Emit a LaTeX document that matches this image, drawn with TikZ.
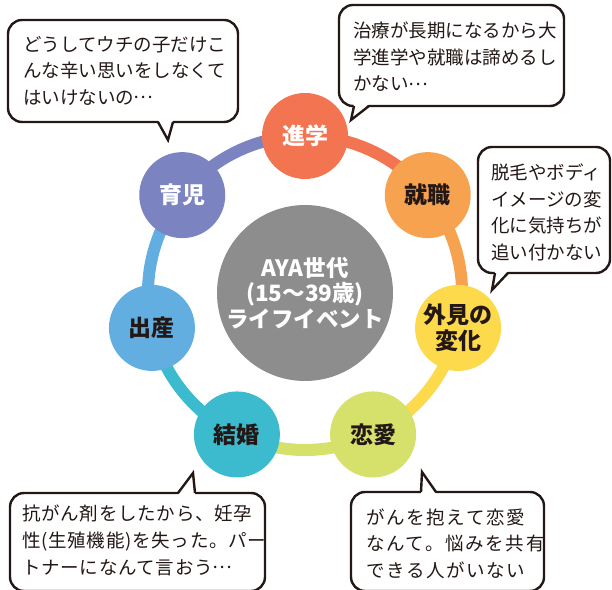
\documentclass[tikz,border=0pt]{standalone}
\usepackage{fontspec}
\setmainfont{Noto Sans CJK JP}
\newcommand\jdots{\makebox[1em][c]{\raisebox{0.3em}{…}}}
\definecolor{ink}{HTML}{231815}
\definecolor{cShin}{HTML}{F27450}
\definecolor{cShu}{HTML}{F7A24F}
\definecolor{cGai}{HTML}{FDD94C}
\definecolor{cRen}{HTML}{D5E16A}
\definecolor{cKek}{HTML}{3DBBCE}
\definecolor{cShus}{HTML}{62AEE0}
\definecolor{cIku}{HTML}{7B83C1}
\definecolor{cHub}{HTML}{8D8D8D}
\pgfdeclarelayer{bg}
\pgfsetlayers{bg,main}
\begin{document}
\begin{tikzpicture}[x=1pt,y=1pt,
  ev/.style={circle, minimum size=86pt, inner sep=0pt, align=center, text=ink,
    font=\fontsize{23}{26}\selectfont\bfseries},
  hub/.style={circle, minimum size=176pt, inner sep=0pt, align=center, fill=cHub, text=white,
    font=\fontsize{22.5}{25.5}\selectfont\bfseries},
  ring/.style={line width=12pt, bend left=25.71, looseness=0.9},
  bubble/.style={draw=ink, line width=2.4pt, fill=white, rounded corners=14pt},
  tailside/.style={draw=ink, line width=2.4pt, line join=miter},
  btext/.style={anchor=west, inner sep=0pt, align=left, text=ink,
    font=\fontsize{18.5}{26.5}\selectfont}]
\useasboundingbox (0,0) rectangle (612,589);

% hub
\node[hub] (hub) at (305,296) {AYA世代\\(15〜39歳)\\ライフイベント};

% life events
\begin{scope}[shift={(305,296)}]
\node[ev, fill=cShin, text=white] (shin) at (90:157) {進学};
\node[ev, fill=cShu] (shu) at (38.57:157) {就職};
\node[ev, fill=cGai] (gai) at (-12.86:157) {外見の\\変化};
\node[ev, fill=cRen] (ren) at (-64.29:157) {恋愛};
\node[ev, fill=cKek] (kek) at (-115.71:157) {結婚};
\node[ev, fill=cShus] (shus) at (-167.14:157) {出産};
\node[ev, fill=cIku, text=white] (iku) at (141.43:157) {育児};
\end{scope}

\begin{pgfonlayer}{bg}
\draw[ring, cShin] (shin.center) to (shu.center);
\draw[ring, cShu] (shu.center) to (gai.center);
\draw[ring, cGai] (gai.center) to (ren.center);
\draw[ring, cRen] (ren.center) to (kek.center);
\draw[ring, cKek] (kek.center) to (shus.center);
\draw[ring, cShus] (shus.center) to (iku.center);
\draw[ring, cIku] (iku.center) to (shin.center);
\end{pgfonlayer}

% bubble 1 (top left)
\path[bubble] (8,467) rectangle (238,569);
\fill[white] (158,469) -- (168,449) -- (173,469) -- cycle;
\draw[tailside] (158,467) -- (168,449) -- (173,467);
\node[btext] (t1) at (23,518) {どうしてウチの子だけこ\\んな辛い思いをしなくて\\はいけないの\jdots};

% bubble 2 (top right)
\path[bubble] (339,483) rectangle (564,584);
\fill[white] (354,485) -- (351,469) -- (369,485) -- cycle;
\draw[tailside] (354,483) -- (351,469) -- (369,483);
\node[btext] (t2) at (353,532) {治療が長期になるから大\\学進学や就職は諦めるし\\かない\jdots};

% bubble 3 (right)
\path[bubble] (478,316) rectangle (610,442);
\fill[white] (495,318) -- (492,299) -- (508,318) -- cycle;
\draw[tailside] (495,316) -- (492,299) -- (508,316);
\node[btext] (t3) at (491,376.5) {脱毛やボディ\\イメージの変\\化に気持ちが\\追い付かない};

% bubble 4 (bottom left)
\path[bubble] (10,-2) rectangle (265,96);
\fill[white] (178,94) -- (193,116) -- (195,94) -- cycle;
\draw[tailside] (178,96) -- (193,116) -- (195,96);
\node[btext, font=\fontsize{18.5}{27}\selectfont\addfontfeature{LetterSpace=4}] (t4) at (22,49) {抗がん剤をしたから、妊孕\\性(生殖機能)を失った。パー\\トナーになんて言おう\jdots};

% bubble 5 (bottom right)
\path[bubble] (351,-2) rectangle (544,97);
\fill[white] (421,95) -- (422,117) -- (436,95) -- cycle;
\draw[tailside] (421,97) -- (422,117) -- (436,97);
\node[btext, font=\fontsize{18.5}{26.5}\selectfont\addfontfeature{LetterSpace=9}] (t5) at (366,45.5) {がんを抱えて恋愛\\なんて。悩みを共有\\できる人がいない};
\end{tikzpicture}
\end{document}
